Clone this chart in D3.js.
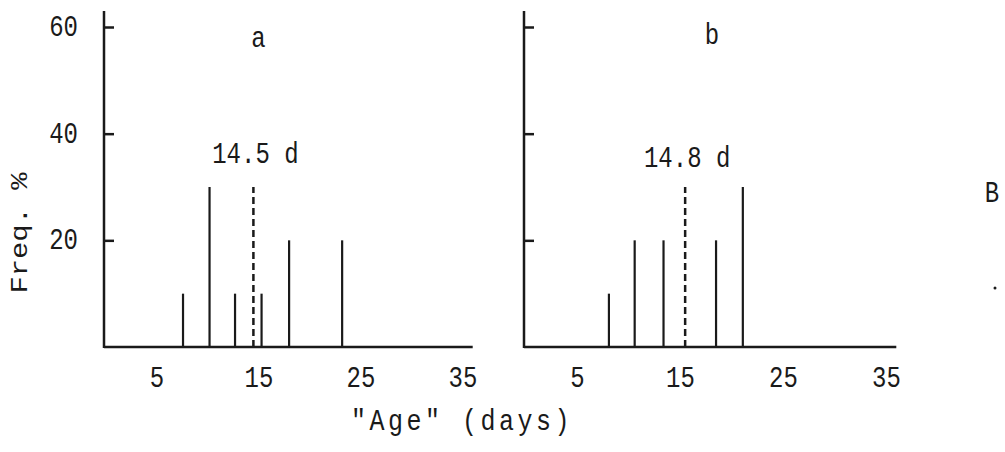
<!DOCTYPE html>
<html>
<head>
<meta charset="utf-8">
<script src="https://cdn.jsdelivr.net/npm/d3@7"></script>
<style>
  body { margin: 0; background: #fff; }
  svg { display: block; }
  text { font-family: "Liberation Mono", "DejaVu Sans Mono", monospace; fill: #1a1a1a; }
</style>
</head>
<body>
<div id="chart"></div>
<script>
// Tick labels
var ageTicks = [5, 15, 25, 35];
var freqTicks = [20, 40, 60];

// Panel a
var ageA = [7.6, 10.2, 12.7, 15.3, 18, 23.2];
var freqA = [10, 30, 10, 10, 20, 20];

// Panel b
var ageB = [8.1, 10.6, 13.4, 18.5, 21.1];
var freqB = [10, 20, 20, 20, 30];

// Mean age markers (dashed lines) and their labels
var panelNames = ["a", "b"];
var meanAge = [14.5, 15.5];
var meanFreq = [30, 30];
var meanLabels = ["14.5 d", "14.8 d"];

function init() {
    var w = 1005;
    var h = 452;
    var ink = "#1a1a1a";
    var fontSize = 24;
    var stretch = "scale(1,1.2)"; // typewriter glyphs are taller than wide
    var letterAt = [15, 18.1]; // where the panel letter sits, in days

    var svg = d3.select("#chart")
                .append("svg")
                .attr("width", w)
                .attr("height", h);

    // Shared y scale
    var yScale = d3.scaleLinear()
                    .domain([0, 60])
                    .range([347, 27]);

    // One x scale for each panel (hand drawn, so slightly different)
    var xScales = [
        d3.scaleLinear().domain([0, 36]).range([105.5, 105.5 + 36 * 10.2]),
        d3.scaleLinear().domain([0, 36]).range([525.5, 525.5 + 36 * 10.3])
    ];

    var panels = [
        { ages: ageA, freqs: freqA },
        { ages: ageB, freqs: freqB }
    ];

    panels.forEach(function(p, k) {
        var xScale = xScales[k];
        var x0 = xScale(0) - 1.5;
        var g = svg.append("g");

        // y axis line, running a little above the 60 tick
        g.append("line")
            .attr("x1", x0).attr("x2", x0)
            .attr("y1", yScale(0) + 1).attr("y2", yScale(63))
            .attr("stroke", ink)
            .attr("stroke-width", 2.5);

        // x axis line
        g.append("line")
            .attr("x1", x0).attr("x2", xScale(36))
            .attr("y1", yScale(0)).attr("y2", yScale(0))
            .attr("stroke", ink)
            .attr("stroke-width", 2.5);

        // y ticks pointing into the plot
        var yAxis = d3.axisRight(yScale)
                        .tickValues(freqTicks)
                        .tickSize(10)
                        .tickFormat("");
        g.append("g")
            .attr("transform", "translate(" + x0 + ",0)")
            .call(yAxis)
            .call(function(s) { s.select(".domain").remove(); })
            .selectAll("line")
            .attr("stroke", ink)
            .attr("stroke-width", 2.5);

        // x tick labels only, no tick marks
        var xAxis = d3.axisBottom(xScale)
                        .tickValues(ageTicks)
                        .tickSize(0)
                        .tickFormat(d3.format("d"));
        g.append("g")
            .attr("transform", "translate(0," + yScale(0) + ")")
            .call(xAxis)
            .call(function(s) { s.select(".domain").remove(); })
            .selectAll("text")
            .attr("y", 0)
            .attr("dy", null)
            .attr("transform", "translate(0,40) " + stretch)
            .attr("font-family", "Liberation Mono")
            .attr("font-size", fontSize)
            .attr("fill", ink);

        // Frequency bars drawn as thin vertical lines
        g.selectAll(".bar")
            .data(p.ages)
            .enter()
            .append("line")
            .attr("class", "bar")
            .attr("x1", function(d) { return xScale(d); })
            .attr("x2", function(d) { return xScale(d); })
            .attr("y1", yScale(0))
            .attr("y2", function(d, i) { return yScale(p.freqs[i]); })
            .attr("stroke", ink)
            .attr("stroke-width", 2.2);

        // Dashed line at the mean age
        g.append("line")
            .attr("x1", xScale(meanAge[k])).attr("x2", xScale(meanAge[k]))
            .attr("y1", yScale(0))
            .attr("y2", yScale(meanFreq[k]))
            .attr("stroke", ink)
            .attr("stroke-width", 2.5)
            .attr("stroke-dasharray", "7,4");

        // Mean label
        g.append("text")
            .attr("transform", "translate(" + (xScale(meanAge[k]) + 2) + "," + (yScale(meanFreq[k]) - 24 + k * 4) + ") " + stretch)
            .attr("text-anchor", "middle")
            .attr("font-size", fontSize)
            .text(meanLabels[k]);

        // Panel letter
        g.append("text")
            .attr("transform", "translate(" + xScale(letterAt[k]) + "," + (yScale(60) + 20 - k * 3) + ") " + stretch)
            .attr("text-anchor", "middle")
            .attr("font-size", fontSize)
            .text(panelNames[k]);
    });

    // y tick labels on the left panel only
    svg.selectAll(".ylab")
        .data(freqTicks)
        .enter()
        .append("text")
        .attr("class", "ylab")
        .attr("transform", function(d) {
            return "translate(78," + (yScale(d) + 9) + ") " + stretch;
        })
        .attr("text-anchor", "end")
        .attr("font-size", fontSize)
        .text(function(d) { return d; });

    // y axis title
    svg.append("text")
        .attr("transform", "translate(27,233) rotate(-90) scale(1.2,1)")
        .attr("text-anchor", "middle")
        .attr("font-size", fontSize)
        .text("Freq. %");

    // x axis title
    svg.append("text")
        .attr("transform", "translate(462,430) " + stretch)
        .attr("text-anchor", "middle")
        .attr("font-size", 25)
        .attr("letter-spacing", 3.5)
        .text("\"Age\" (days)");

    // Figure letter at the right margin
    svg.append("text")
        .attr("transform", "translate(992,202) " + stretch)
        .attr("text-anchor", "middle")
        .attr("font-size", fontSize)
        .text("B");

    svg.append("circle")
        .attr("cx", 995).attr("cy", 288).attr("r", 1.5)
        .attr("fill", ink);
}

window.onload = init;
</script>
</body>
</html>
